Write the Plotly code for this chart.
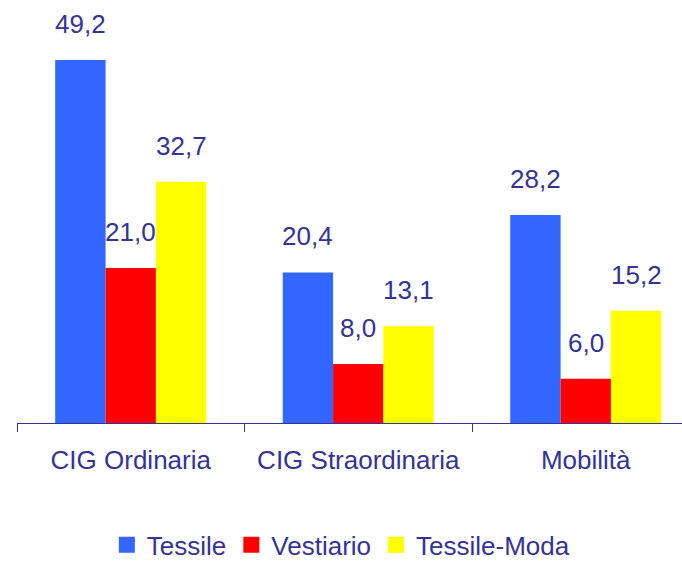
import plotly.graph_objects as go

categories = ["CIG Ordinaria", "CIG Straordinaria", "Mobilità"]
series_names = ["Tessile", "Vestiario", "Tessile-Moda"]
tessile = [49.2, 20.4, 28.2]
vestiario = [21.0, 8.0, 6.0]
tessile_moda = [32.7, 13.1, 15.2]
colors = ["#3366FF", "#FF0000", "#FFFF00"]

values = [tessile, vestiario, tessile_moda]
TXT = "#333399"
FONT = "Liberation Sans, Arial, sans-serif"

fig = go.Figure()
for name, vals, col in zip(series_names, values, colors):
    fig.add_trace(go.Bar(x=categories, y=vals, name=name, marker_color=col,
                         marker_line_width=0, showlegend=False, hoverinfo="skip"))
# legend entries
for name, col in zip(series_names, colors):
    fig.add_trace(go.Scatter(x=[None], y=[None], mode="markers", name=name,
                             marker=dict(symbol="square", size=17, color=col)))

bw = 0.664 / 3
annotations = []
for si, vals in enumerate(values):
    off = (si - 1) * bw
    for ci, v in enumerate(vals):
        annotations.append(dict(x=ci + off, y=v, xref="x", yref="y",
                                text=f"{v:.1f}".replace(".", ","),
                                showarrow=False, yanchor="bottom", yshift=19,
                                font=dict(size=26, color=TXT, family=FONT)))

fig.update_layout(
    width=682, height=561,
    margin=dict(l=17, r=0, t=0, b=138, autoexpand=False),
    paper_bgcolor="white", plot_bgcolor="white",
    barmode="group", bargap=0.336, bargroupgap=0,
    font=dict(family=FONT, size=26, color=TXT),
    annotations=annotations,
    legend=dict(orientation="h", x=0.487, xanchor="center", y=-0.288, yanchor="middle",
                font=dict(size=26, color=TXT), itemsizing="trace", itemwidth=30,
                tracegroupgap=0),
    xaxis=dict(type="category", range=[-0.5, 2.423], showgrid=False, automargin=False,
               showline=True, linecolor=TXT, linewidth=1,
               ticks="outside", tickson="boundaries", ticklen=8, tickcolor=TXT,
               ticklabelstandoff=14,
               tickfont=dict(size=26, color=TXT, family=FONT)),
    yaxis=dict(range=[0, 57.33], visible=False, showgrid=False, zeroline=False,
               automargin=False),
)

fig.write_html("out.html", config={"displayModeBar": False},
               post_script="document.body.style.margin='0';document.body.style.overflow='hidden';")
